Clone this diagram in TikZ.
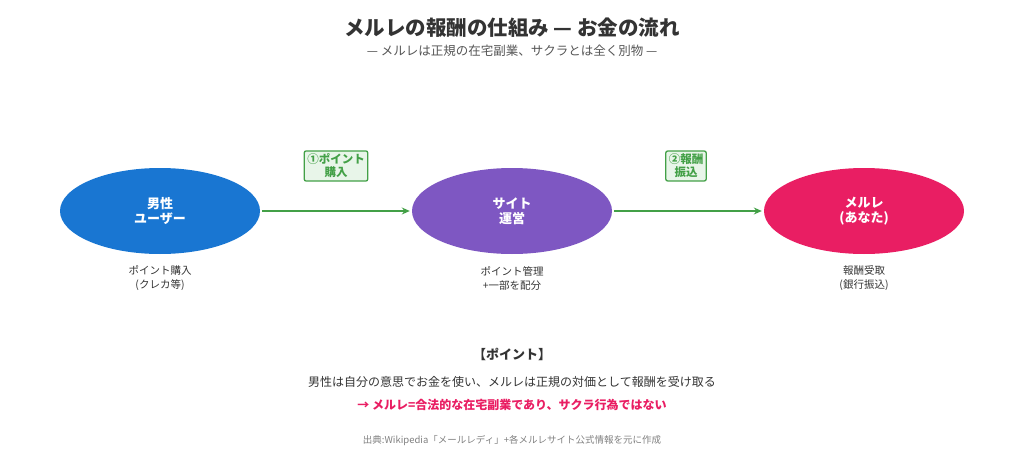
\documentclass[tikz,border=0pt]{standalone}
\usepackage{fontspec}
\setmainfont{Noto Sans CJK JP}
\usetikzlibrary{positioning,arrows.meta}
\definecolor{userblue}{HTML}{1976D2}
\definecolor{sitepurple}{HTML}{7E57C2}
\definecolor{merupink}{HTML}{E91E63}
\definecolor{flowgreen}{HTML}{43A047}
\definecolor{tagfill}{HTML}{E8F5E9}
\definecolor{darktext}{HTML}{333333}
\definecolor{greytext}{HTML}{555555}
\tikzset{
  party/.style={ellipse,minimum width=200pt,minimum height=86pt,text=white,font=\fontsize{13}{15}\selectfont\bfseries,align=center,inner sep=0pt},
  flow/.style={-{Stealth[length=8pt,width=7pt]},line width=2.4pt,flowgreen,shorten <=2pt,shorten >=2pt},
  tag/.style={draw=flowgreen,line width=1.3pt,fill=tagfill,rounded corners=2pt,text=flowgreen,font=\fontsize{11.5}{13}\selectfont\bfseries,align=center,inner sep=3pt},
  note/.style={font=\fontsize{10.5}{14}\selectfont,text=darktext,align=center}
}
\usetikzlibrary{shapes.geometric}
\begin{document}
\begin{tikzpicture}[x=1pt,y=-1pt]
\useasboundingbox (0,0) rectangle (1024,468);

%title
\node[font=\fontsize{20.5}{24}\selectfont\bfseries,text=darktext] (title) at (512,28) {メルレの報酬の仕組み — お金の流れ};
\node[font=\fontsize{12.5}{15}\selectfont,text=greytext] (subtitle) at (512,51) {— メルレは正規の在宅副業、サクラとは全く別物 —};

%parties
\node[party,fill=userblue] (user) at (160,211) {男性\\ユーザー};
\node[party,fill=sitepurple] (site) at (512,211) {サイト\\運営};
\node[party,fill=merupink] (merure) at (864,211) {メルレ\\(あなた)};

\node[note] (usernote) at (160,278) {ポイント購入\\(クレカ等)};
\node[note] (sitenote) at (512,278) {ポイント管理\\+一部を配分};
\node[note] (merunote) at (864,278) {報酬受取\\(銀行振込)};

%money flow
\draw[flow] (user) -- (site);
\draw[flow] (site) -- (merure);
\node[tag] (buy) at (336,166) {①ポイント\\購入};
\node[tag] (pay) at (686,166) {②報酬\\振込};

%summary
\node[font=\fontsize{13}{15}\selectfont\bfseries,text=darktext] (point) at (512,354) {【ポイント】};
\node[font=\fontsize{12}{14}\selectfont,text=darktext] (pointtext) at (512,382) {男性は自分の意思でお金を使い、メルレは正規の対価として報酬を受け取る};
\node[font=\fontsize{12}{14}\selectfont\bfseries,text=merupink] (pointnote) at (512,405) {→ メルレ=合法的な在宅副業であり、サクラ行為ではない};
\node[font=\fontsize{9.5}{11}\selectfont,text=gray] (source) at (512,441) {出典:Wikipedia「メールレディ」+各メルレサイト公式情報を元に作成};
\end{tikzpicture}
\end{document}
